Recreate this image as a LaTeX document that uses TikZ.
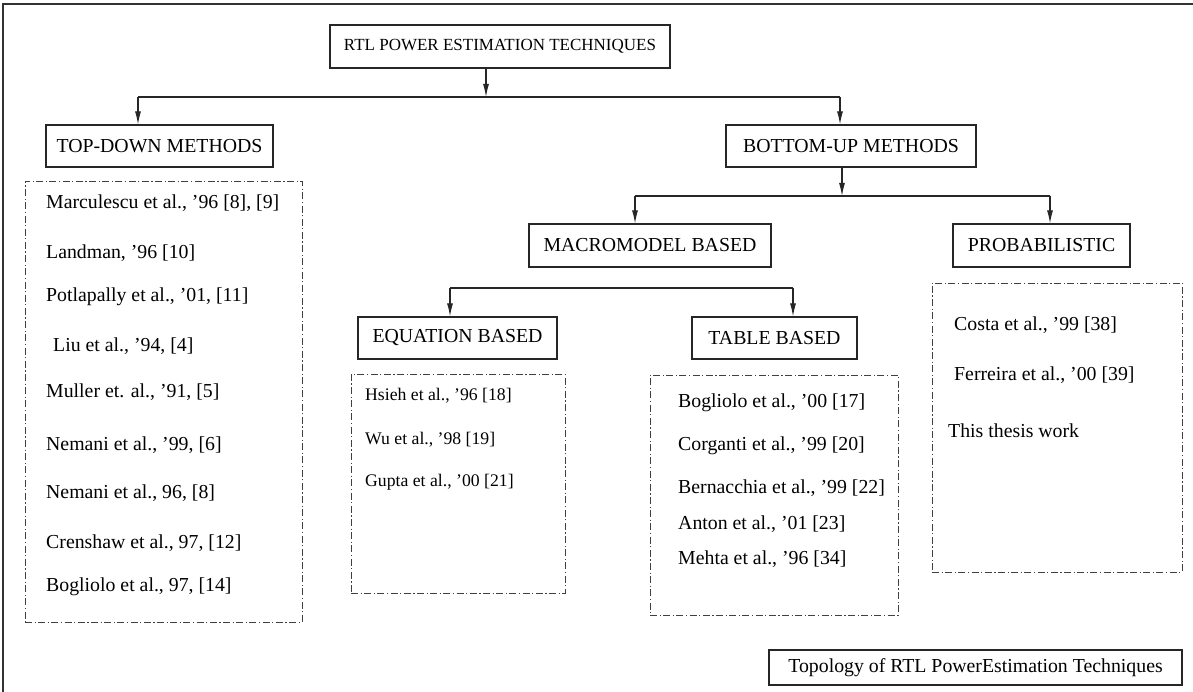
\documentclass[tikz,border=0pt]{standalone}
\usepackage{fontspec}
\setmainfont{Liberation Serif}
\usetikzlibrary{arrows.meta}
\begin{document}
\begin{tikzpicture}[x=1pt,y=-1pt,
  box/.style={draw=black!85, line width=1.1pt, inner sep=0pt,
    font=\fontsize{19.8}{22}\selectfont},
  group/.style={draw=black!75, line width=0.9pt, inner sep=0pt,
    dash pattern=on 7pt off 2.5pt on 1.2pt off 2.5pt},
  entry/.style={anchor=west, inner sep=0pt, font=\fontsize{19.8}{22}\selectfont},
  smallentry/.style={entry, font=\fontsize{17.7}{20}\selectfont},
  link/.style={draw=black!85, line width=1.1pt},
  arr/.style={link, -{Latex[length=13pt,width=6pt]}}]
\useasboundingbox (0,0) rectangle (1193,692);

% page frame
\draw[line width=1.4pt, draw=black!80] (3,692) -- (3,4) -- (1193,4);

% category boxes
\node[box, minimum width=340pt, minimum height=43pt, font=\fontsize{17}{20}\selectfont]
  (root) at (500,46.5) {RTL POWER ESTIMATION TECHNIQUES};
\node[box, minimum width=227pt, minimum height=42pt] (td) at (159.5,146) {TOP-DOWN METHODS};
\node[box, minimum width=250pt, minimum height=42pt] (bu) at (851,146) {BOTTOM-UP METHODS};
\node[box, minimum width=242pt, minimum height=43pt] (macro) at (650,245.5) {MACROMODEL BASED};
\node[box, minimum width=177pt, minimum height=43pt] (prob) at (1041.5,245.5) {PROBABILISTIC};
\node[box, minimum width=199pt, minimum height=42pt] (eq) at (457.5,338) {EQUATION BASED};
\node[box, minimum width=165pt, minimum height=42pt] (tb) at (774.5,338) {TABLE BASED};
\node[box, minimum width=413pt, minimum height=35pt] (cap) at (975.5,667.5)
  {Topology of RTL PowerEstimation Techniques};

% reference groups
\node[group, minimum width=277pt, minimum height=441pt] (tdlist) at (163.5,401.5) {};
\node[group, minimum width=214pt, minimum height=219pt] (eqlist) at (458,483.5) {};
\node[group, minimum width=248pt, minimum height=240pt] (tblist) at (774,495) {};
\node[group, minimum width=250pt, minimum height=289pt] (prlist) at (1057,427.5) {};

% top-down references
\node[entry] (td1) at (46,203) {Marculescu et al., ’96 [8], [9]};
\node[entry] (td2) at (46,253) {Landman, ’96 [10]};
\node[entry] (td3) at (46,297) {Potlapally et al., ’01, [11]};
\node[entry] (td4) at (53,346) {Liu et al., ’94, [4]};
\node[entry] (td5) at (46,392) {Muller et. al., ’91, [5]};
\node[entry] (td6) at (46,445) {Nemani et al., ’99, [6]};
\node[entry] (td7) at (46,493) {Nemani et al., 96, [8]};
\node[entry] (td8) at (46,543) {Crenshaw et al., 97, [12]};
\node[entry] (td9) at (46,587) {Bogliolo et al., 97, [14]};

% equation based references
\node[smallentry] (eq1) at (365,396) {Hsieh et al., ’96 [18]};
\node[smallentry] (eq2) at (365,440) {Wu et al., ’98 [19]};
\node[smallentry] (eq3) at (365,482) {Gupta et al., ’00 [21]};

% table based references
\node[entry] (tb1) at (678,403) {Bogliolo et al., ’00 [17]};
\node[entry] (tb2) at (678,446) {Corganti et al., ’99 [20]};
\node[entry] (tb3) at (678,488) {Bernacchia et al., ’99 [22]};
\node[entry] (tb4) at (678,524) {Anton et al., ’01 [23]};
\node[entry] (tb5) at (678,559) {Mehta et al., ’96 [34]};

% probabilistic references
\node[entry] (pr1) at (954,325) {Costa et al., ’99 [38]};
\node[entry] (pr2) at (954,375) {Ferreira et al., ’00 [39]};
\node[entry] (pr3) at (948,431) {This thesis work};

% first split
\coordinate (j1) at (486,97);
\coordinate (j1l) at (138,97);
\coordinate (j1r) at (840,97);
\draw[arr] (root.south -| j1) -- (j1);
\draw[link] (j1l) -- (j1r);
\draw[arr] (j1l) -- (j1l |- td.north);
\draw[arr] (j1r) -- (j1r |- bu.north);

% bottom-up split
\coordinate (j2) at (842,196);
\coordinate (j2l) at (635,196);
\coordinate (j2r) at (1050,196);
\draw[arr] (bu.south -| j2) -- (j2);
\draw[link] (j2l) -- (j2r);
\draw[arr] (j2l) -- (j2l |- macro.north);
\draw[arr] (j2r) -- (j2r |- prob.north);

% macromodel split
\coordinate (j3l) at (450,288);
\coordinate (j3r) at (793,288);
\draw[link] (j3l) -- (j3r);
\draw[arr] (j3l) -- (j3l |- eq.north);
\draw[arr] (j3r) -- (j3r |- tb.north);
\end{tikzpicture}
\end{document}
